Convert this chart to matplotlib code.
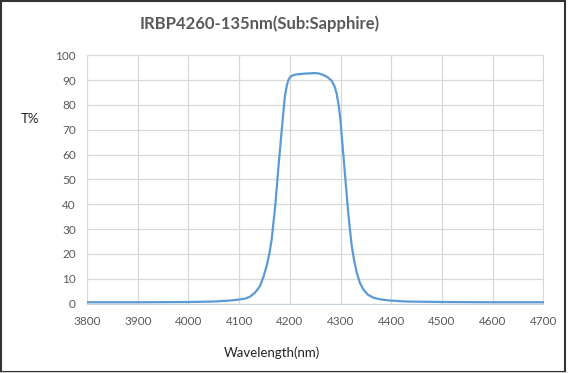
import matplotlib.pyplot as plt
from matplotlib.patches import Rectangle

# values
wavelength = [3800, 3900, 4000, 4050, 4082, 4100, 4112, 4121, 4131, 4141, 4148,
              4154, 4160, 4164, 4171, 4177, 4184, 4190, 4194, 4197, 4201, 4207,
              4214, 4220, 4230, 4240, 4250, 4258, 4266, 4274, 4282, 4288, 4292,
              4296, 4299, 4304, 4309, 4315, 4322, 4327, 4332, 4338, 4345, 4354,
              4365, 4380, 4397, 4430, 4500, 4600, 4700]
transmission = [0.5, 0.5, 0.6, 0.8, 1.2, 1.6, 2.0, 2.7, 4.3, 7.0, 10.8,
                15.0, 20.5, 25.7, 39.0, 54.0, 70.0, 83.3, 87.8, 90.0, 91.3, 92.0,
                92.3, 92.4, 92.6, 92.7, 92.8, 92.6, 92.0, 91.2, 89.8, 87.5, 84.7,
                80.0, 75.3, 63.2, 51.0, 36.5, 23.0, 17.0, 12.3, 8.3, 5.6, 3.5,
                2.3, 1.6, 1.2, 0.8, 0.6, 0.5, 0.5]
x_ticks = list(range(3800, 4701, 100))
y_ticks = list(range(0, 101, 10))

plt.rcParams['font.family'] = ['Lato', 'DejaVu Sans']

fig = plt.figure(figsize=(5.68, 3.73), dpi=100)
ax = fig.add_axes([87/568, 1-303.5/373, (543.5-87)/568, (303.5-55.2)/373])

ax.plot(wavelength, transmission, color="#5b9bd5", lw=1.6, zorder=3)

ax.set_xlim(3800, 4700)
ax.set_ylim(0, 100)
ax.set_xticks(x_ticks)
ax.set_yticks(y_ticks)
ax.grid(True, color="#d9d9d9", lw=0.9)
ax.set_axisbelow(True)
for s in ["top", "right", "left"]:
	ax.spines[s].set_visible(False)
ax.spines["bottom"].set_color("#c8d0da")
ax.tick_params(length=0, labelsize=8.5, labelcolor="#595959")
ax.tick_params(axis="y", pad=8)
ax.tick_params(axis="x", pad=9)

fig.text(259.5/568, 1-24/373, "IRBP4260-135nm(Sub:Sapphire)", ha="center", va="center",
	fontsize=12, color="#595959", fontweight="bold")
fig.text(30/568, 1-119/373, "T%", ha="center", va="center", fontsize=9.5, color="#222222")
fig.text(271.5/568, 1-352.5/373, "Wavelength(nm)", ha="center", va="center", fontsize=9.5,
	color="#222222")

# picture frame
fig.patches.append(Rectangle((0.5/568, 1.5/373), 564/568, 370.5/373, transform=fig.transFigure,
	fill=False, edgecolor="#333333", lw=1.5))
fig.patches.append(Rectangle((0, 0), 1, 1.5/373, transform=fig.transFigure,
	facecolor="#d0d0d0", edgecolor="none"))

fig.savefig("out.png", dpi=100)
